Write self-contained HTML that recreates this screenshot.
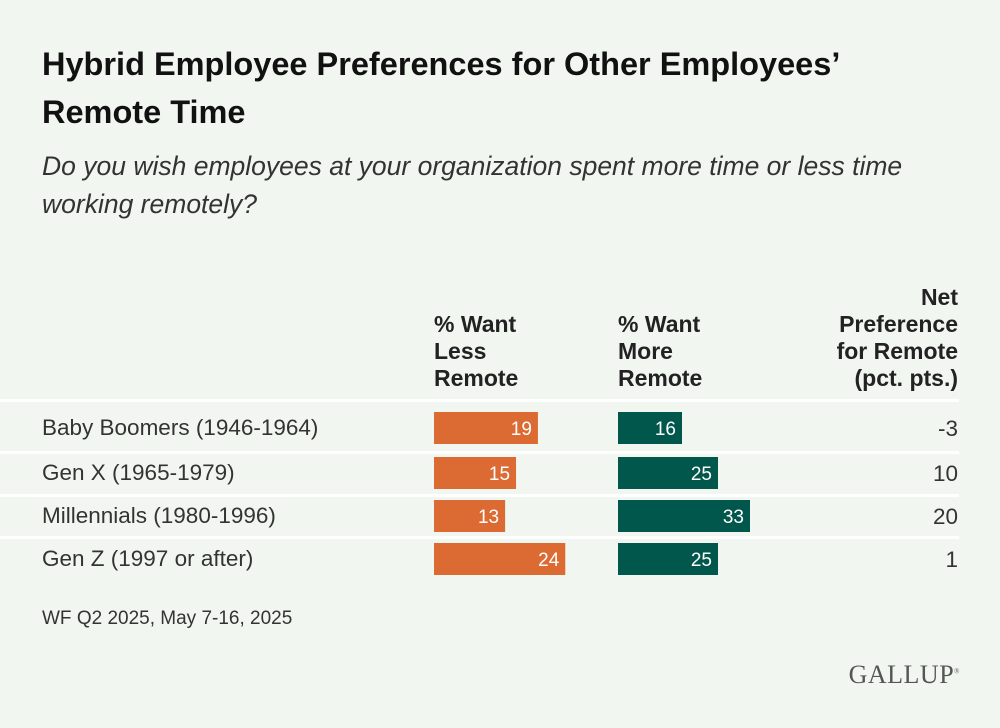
<!DOCTYPE html>
<html><head><meta charset="utf-8"><style>
body{margin:0;background:#f1f7f0;font-family:"Liberation Sans",sans-serif;color:#222}
#root{position:relative;width:1000px;height:728px;overflow:hidden}
.t{position:absolute;white-space:nowrap}
</style></head><body>
<div id="root">
<div class="t" style="left:42px;top:40px;font-size:32.5px;font-weight:bold;line-height:48px;color:#111">Hybrid Employee Preferences for Other Employees’<br>Remote Time</div>
<div class="t" style="left:42px;top:147px;font-size:26.5px;font-style:italic;line-height:38px;color:#333">Do you wish employees at your organization spent more time or less time<br>working remotely?</div>
<div class="t" style="left:434px;top:311px;font-size:23px;font-weight:bold;line-height:27px">% Want<br>Less<br>Remote</div>
<div class="t" style="left:618px;top:311px;font-size:23px;font-weight:bold;line-height:27px">% Want<br>More<br>Remote</div>
<div class="t" style="right:42px;top:284px;font-size:23px;font-weight:bold;line-height:27px;text-align:right">Net<br>Preference<br>for Remote<br>(pct. pts.)</div>
<svg id="svg" width="1000" height="728" style="position:absolute;left:0;top:0"></svg>
<div class="t" style="left:42px;top:608px;font-size:19px;color:#333">WF Q2 2025, May 7-16, 2025</div>
<div class="t" style="right:40px;top:660px;font-family:'Liberation Serif',serif;font-size:26px;color:#555;letter-spacing:0.5px">GALLUP<sup style="font-size:7px">®</sup></div>
</div>
<script>
const categories=["Baby Boomers (1946-1964)","Gen X (1965-1979)","Millennials (1980-1996)","Gen Z (1997 or after)"];
const lessRemote=[19,15,13,24];
const moreRemote=[16,25,33,25];
const netPref=[-3,10,20,1];
const svg=document.getElementById('svg');const NS='http://www.w3.org/2000/svg';
const rowTop=[400,452,495,537];
const xLess=v=>434+v*5.47, xMore=v=>618+v*4.0;
function mk(t,a){const e=document.createElementNS(NS,t);for(const k in a)e.setAttribute(k,a[k]);svg.appendChild(e);return e;}
categories.forEach((c,i)=>{
  const ln=mk('rect',{x:0,y:rowTop[i]-1,width:959,height:3,fill:'#ffffff'});
  
  
  const y=[412,457,500,543][i];
  const lb=mk('text',{x:42,y:y+23,'font-size':22.5,fill:'#333'});lb.textContent=c;
  
  
  const b1=mk('rect',{x:434,y:y,width:xLess(lessRemote[i])-434,height:32,fill:'#dc6a33'});
  
  
  const t1=mk('text',{x:xLess(lessRemote[i])-6,y:y+23,'font-size':19,fill:'#fff','text-anchor':'end'});t1.textContent=lessRemote[i];
  
  
  const b2=mk('rect',{x:618,y:y,width:xMore(moreRemote[i])-618,height:32,fill:'#02574d'});
  
  
  const t2=mk('text',{x:xMore(moreRemote[i])-6,y:y+23,'font-size':19,fill:'#fff','text-anchor':'end'});t2.textContent=moreRemote[i];
  
  
  const t3=mk('text',{x:958,y:y+24,'font-size':22.5,fill:'#333','text-anchor':'end'});t3.textContent=netPref[i];
  
  
});
</script>
</body></html>
